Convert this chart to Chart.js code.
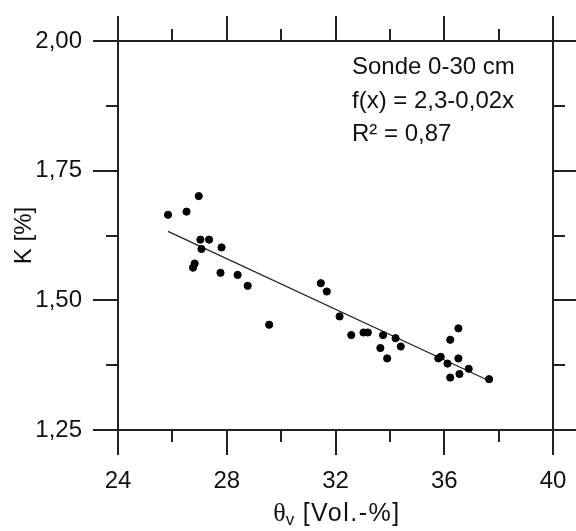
<!DOCTYPE html>
<html>
<head>
<meta charset="utf-8">
<script src="https://cdn.jsdelivr.net/npm/chart.js@4.4.1/dist/chart.umd.min.js"></script>
<style>
  html, body { margin: 0; padding: 0; background: #fff; }
  #wrap { width: 576px; height: 531px; }
</style>
</head>
<body>
<div id="wrap"><canvas id="kChart"></canvas></div>
<script>
// soil water content (x) and potassium (y)
const thetaV = [25.84, 26.52, 26.97, 27.03, 27.35, 27.07, 27.81, 26.82, 26.76, 27.77, 28.40, 28.77, 29.56,
                31.46, 31.68, 32.15, 32.58, 33.03, 33.19, 33.75, 33.65, 33.90, 34.21, 34.40,
                35.78, 35.87, 36.12, 36.22, 36.52, 36.52, 36.22, 36.56, 36.90, 37.65];
const kValues = [1.665, 1.671, 1.701, 1.617, 1.617, 1.599, 1.602, 1.571, 1.563, 1.553, 1.549, 1.528, 1.453,
                 1.533, 1.517, 1.469, 1.433, 1.438, 1.438, 1.433, 1.408, 1.388, 1.427, 1.411,
                 1.388, 1.391, 1.378, 1.424, 1.446, 1.388, 1.351, 1.358, 1.368, 1.348];

// regression line end points
const fitX = [25.84, 37.65];
const fitY = [1.633, 1.345];

const xMajor = [24, 28, 32, 36, 40];
const xMinor = [26, 30, 34, 38];
const yMajor = [1.25, 1.50, 1.75, 2.00];
const yMinor = [1.375, 1.625, 1.875];

const noteLines = ['Sonde 0-30 cm', 'f(x) = 2,3-0,02x', 'R² = 0,87'];

const FONT = 'Liberation Sans, Arial, sans-serif';
const INK = '#111';
const MAJOR_LEN = 25;
const MINOR_LEN = 12;

const framePlugin = {
    id: 'frame',
    afterDraw(chart) {
        const { ctx, chartArea: a, scales: { x, y } } = chart;
        ctx.save();
        ctx.strokeStyle = '#222';
        ctx.lineWidth = 2;
        ctx.strokeRect(a.left, a.top, a.right - a.left, a.bottom - a.top);

        const seg = (x1, y1, x2, y2) => {
            ctx.beginPath();
            ctx.moveTo(x1, y1);
            ctx.lineTo(x2, y2);
            ctx.stroke();
        };
        const xTicks = (vals, len) => vals.forEach(v => {
            const px = Math.round(x.getPixelForValue(v));
            seg(px, a.bottom, px, a.bottom + len);
            seg(px, a.top, px, a.top - len);
        });
        const yTicks = (vals, len) => vals.forEach(v => {
            const py = Math.round(y.getPixelForValue(v));
            seg(a.left, py, a.left - len, py);
            seg(a.right, py, a.right + len, py);
        });
        xTicks(xMajor, MAJOR_LEN);
        xTicks(xMinor, MINOR_LEN);
        yTicks(yMajor, MAJOR_LEN);
        yTicks(yMinor, MINOR_LEN);

        // annotation block
        ctx.fillStyle = INK;
        ctx.font = '24px ' + FONT;
        ctx.textAlign = 'left';
        ctx.textBaseline = 'alphabetic';
        noteLines.forEach((t, i) => ctx.fillText(t, a.left + 234, a.top + 33 + i * 33.5));

        // x axis title with subscript
        const parts = [
            { t: 'θ', f: '26px Liberation Serif, serif', dy: 0, ls: '0px' },
            { t: 'v', f: '17px ' + FONT, dy: 4, ls: '0px' },
            { t: ' [Vol.-%]', f: '25px ' + FONT, dy: 0, ls: '1.5px' }
        ];
        let total = 0;
        parts.forEach(p => {
            ctx.font = p.f;
            ctx.letterSpacing = p.ls;
            p.w = ctx.measureText(p.t).width;
            total += p.w;
        });
        let cx = (a.left + a.right) / 2 + 1.5 - total / 2;
        const base = 521;
        parts.forEach(p => {
            ctx.font = p.f;
            ctx.letterSpacing = p.ls;
            ctx.fillText(p.t, cx, base + p.dy);
            cx += p.w;
        });
        ctx.restore();
    }
};

const ctx = document.getElementById('kChart').getContext('2d');
new Chart(ctx, {
    type: 'scatter',
    data: {
        datasets: [
            {
                label: 'K',
                data: thetaV.map((v, i) => ({ x: v, y: kValues[i] })),
                backgroundColor: '#000',
                borderColor: '#000',
                pointRadius: 3.6,
                pointHoverRadius: 3.6,
                order: 1
            },
            {
                label: 'fit',
                type: 'line',
                data: fitX.map((v, i) => ({ x: v, y: fitY[i] })),
                borderColor: '#222',
                borderWidth: 1.2,
                pointRadius: 0,
                fill: false,
                order: 2
            }
        ]
    },
    options: {
        responsive: true,
        maintainAspectRatio: false,
        animation: false,
        events: [],
        layout: { padding: { left: 0, top: 41, right: 23, bottom: 0 } },
        plugins: { legend: { display: false }, tooltip: { enabled: false } },
        scales: {
            x: {
                type: 'linear',
                min: 24, max: 40,
                afterBuildTicks: s => { s.ticks = xMajor.map(v => ({ value: v })); },
                afterFit: s => { s.height = 101; s.paddingLeft = 0; s.paddingRight = 0; },
                grid: { display: false, drawTicks: false },
                border: { display: false },
                ticks: {
                    color: INK,
                    padding: 37,
                    maxRotation: 0,
                    font: { family: FONT, size: 24 },
                    callback: v => String(v)
                }
            },
            y: {
                type: 'linear',
                min: 1.25, max: 2.0,
                afterBuildTicks: s => { s.ticks = yMajor.map(v => ({ value: v })); },
                afterFit: s => { s.width = 118; s.paddingTop = 0; s.paddingBottom = 0; },
                grid: { display: false, drawTicks: false },
                border: { display: false },
                ticks: {
                    color: INK,
                    padding: 36,
                    font: { family: FONT, size: 24 },
                    callback: v => v.toFixed(2).replace('.', ',')
                },
                title: {
                    display: true,
                    text: 'K [%]',
                    color: INK,
                    padding: { top: 10, bottom: 0 },
                    font: { family: FONT, size: 24 }
                }
            }
        }
    },
    plugins: [framePlugin]
});
</script>
</body>
</html>
